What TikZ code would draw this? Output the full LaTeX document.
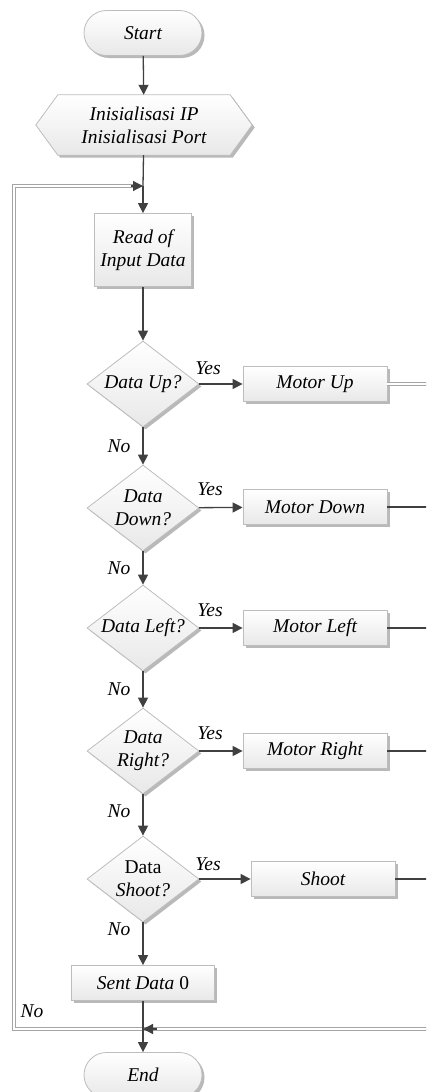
\documentclass[tikz,border=0pt]{standalone}
\usepackage{fontspec}
\setmainfont{Liberation Serif}
\usetikzlibrary{shapes.geometric,shapes.misc,shadows,arrows.meta,backgrounds}
\definecolor{edgegray}{HTML}{BDBDBD}
\definecolor{linegray}{HTML}{404040}
\definecolor{loopgray}{HTML}{A4A4A4}
\tikzset{
  shapefill/.style={draw=edgegray, line width=0.8pt, top color=white, bottom color=gray!18,
    drop shadow={shadow xshift=2.5pt, shadow yshift=-2.5pt, fill=gray!55, opacity=1}},
  txt/.style={font=\itshape\fontsize{19.5}{23}\selectfont, align=center, inner sep=0pt},
  terminal/.style={shapefill, txt, rounded rectangle, minimum width=118pt, minimum height=45pt},
  process/.style={shapefill, txt, rectangle, minimum width=144pt, minimum height=35pt},
  decision/.style={shapefill, txt, diamond, shape aspect=1.3, minimum width=112pt, minimum height=86pt},
  flow/.style={draw=linegray, line width=1.3pt, -{Triangle[length=10pt,width=10pt]}},
  plainline/.style={draw=linegray, line width=1.3pt},
  loopouter/.style={draw=loopgray, line width=3.2pt},
  loopinner/.style={draw=white, line width=1.4pt},
  lbl/.style={font=\itshape\fontsize{19.5}{23}\selectfont, inner sep=0pt},
}
\begin{document}
\begin{tikzpicture}[x=1pt, y=-1pt]
\useasboundingbox (0,0) rectangle (426,1092);
\clip (0,0) rectangle (426,1092);

% main column
\node[terminal] (start) at (143,33) {Start};
\node[txt, minimum width=216pt, minimum height=60pt] (prep) at (144,125) {Inisialisasi IP\\Inisialisasi Port};
\begin{pgfonlayer}{background}
  \path[shapefill] (prep.west) -- ([xshift=22pt]prep.north west) -- ([xshift=-22pt]prep.north east)
    -- (prep.east) -- ([xshift=-22pt]prep.south east) -- ([xshift=22pt]prep.south west) -- cycle;
\end{pgfonlayer}
\node[process, minimum width=97pt, minimum height=73pt] (read) at (143,250) {Read of\\Input Data};

\node[decision] (d1) at (143,384) {Data Up?};
\node[decision] (d2) at (143,508) {Data\\Down?};
\node[decision] (d3) at (143,628) {Data Left?};
\node[decision] (d4) at (143,751) {Data\\Right?};
\node[decision] (d5) at (143,879) {\upshape Data\\Shoot?};

\node[process] (m1) at (315,384) {Motor Up};
\node[process] (m2) at (315,507) {Motor Down};
\node[process] (m3) at (315,628) {Motor Left};
\node[process] (m4) at (315,751) {Motor Right};
\node[process] (m5) at (323,879) {Shoot};

\node[process, minimum width=143pt] (sent) at (143,983) {Sent Data {\upshape 0}};
\node[terminal] (end) at (143,1075) {End};

% junctions and loop corners
\coordinate (jtop) at (143,186);
\coordinate (jbot) at (143,1029);
\coordinate (lt) at (14,186);
\coordinate (lb) at (14,1029);
\coordinate (rb) at (430,1029);
\coordinate (e1) at (430,384);
\coordinate (e2) at (430,507);
\coordinate (e3) at (430,628);
\coordinate (e4) at (430,751);
\coordinate (e5) at (430,879);

% return loop, a hollow double line
\draw[loopouter] (rb) -- (lb) -- (lt) -- ([xshift=-8pt]jtop);
\draw[loopinner] (rb) -- (lb) -- (lt) -- ([xshift=-8pt]jtop);
\draw[loopouter] (m1.east) -- (e1);
\draw[loopinner] (m1.east) -- (e1);
\draw[flow] ([xshift=-12pt]jtop) -- (jtop);
\draw[flow] ([xshift=14pt]jbot) -- (jbot);

% vertical flow
\draw[flow] (start) -- (prep);
\draw[plainline] (prep) -- (jtop);
\draw[flow] (jtop) -- (read);
\draw[flow] (read) -- (d1);
\draw[flow] (d1) -- node[lbl, left=12pt] (n1) {No} (d2);
\draw[flow] (d2) -- node[lbl, left=12pt] (n2) {No} (d3);
\draw[flow] (d3) -- node[lbl, left=12pt] (n3) {No} (d4);
\draw[flow] (d4) -- node[lbl, left=12pt, pos=0.4] (n4) {No} (d5);
\draw[flow] (d5) -- node[lbl, left=12pt, pos=0.15] (n5) {No} (sent);
\draw[flow] (sent) -- (end);
\node[lbl] (n6) at (32,1011) {No};

% yes branches
\draw[flow] (d1) -- (m1);
\draw[flow] (d2) -- (m2);
\draw[flow] (d3) -- (m3);
\draw[flow] (d4) -- (m4);
\draw[flow] (d5) -- (m5);
\node[lbl] (y1) at (208,368) {Yes};
\node[lbl] (y2) at (210,489) {Yes};
\node[lbl] (y3) at (210,610) {Yes};
\node[lbl] (y4) at (210,733) {Yes};
\node[lbl] (y5) at (208,864) {Yes};

% outputs leaving to the right
\draw[plainline] (m2) -- (e2);
\draw[plainline] (m3) -- (e3);
\draw[plainline] (m4) -- (e4);
\draw[plainline] (m5) -- (e5);
\end{tikzpicture}
\end{document}
